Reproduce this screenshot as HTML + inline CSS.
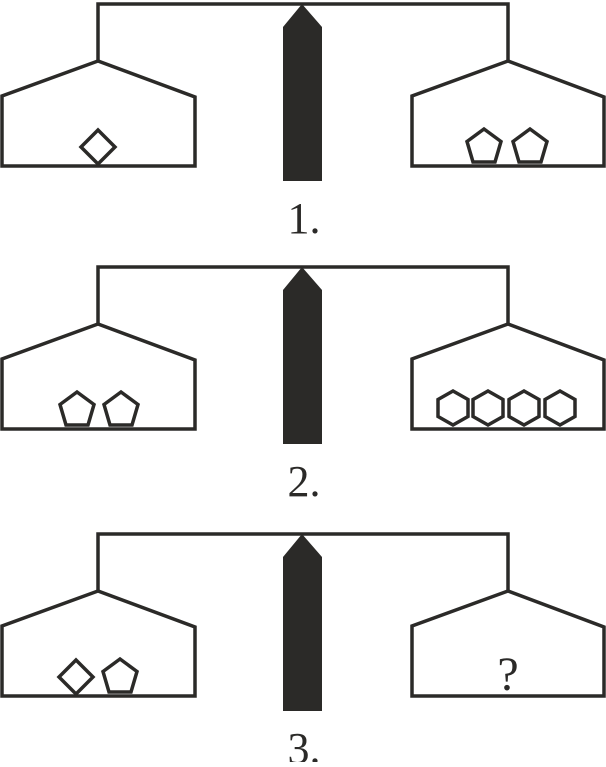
<!DOCTYPE html>
<html><head><style>html,body{margin:0;padding:0;background:#fff;}</style></head>
<body>
<svg width="606" height="762" viewBox="0 0 606 762" xmlns="http://www.w3.org/2000/svg">
<defs>
<g id="scale">
  <polyline points="98,61 98,4 508,4 508,61" fill="none" stroke="#2b2a28" stroke-width="3.5"/>
  <polygon points="98,61 2,96 2,166 195,166 195,97" fill="none" stroke="#2b2a28" stroke-width="3.5"/>
  <polygon points="508,61 412,96 412,166 604,166 604,97" fill="none" stroke="#2b2a28" stroke-width="3.5"/>
  <polygon points="302,4 322,27 322,181 283,181 283,27" fill="#2b2a28"/>
</g>
<polygon id="pent" points="0,-18 17,-5.5 11,15 -11,15 -17,-5.5" fill="none" stroke="#2b2a28" stroke-width="3.5"/>
<polygon id="diam" points="0,-17 17,0 0,17 -17,0" fill="none" stroke="#2b2a28" stroke-width="3.5"/>
<polygon id="hex" points="0,-17 15,-8.5 15,8.5 0,17 -15,8.5 -15,-8.5" fill="none" stroke="#2b2a28" stroke-width="3.5"/>
</defs>
<g font-family="Liberation Serif, serif" font-size="44" fill="#2b2a28" text-anchor="middle">
<use href="#scale"/>
<use href="#diam" x="98" y="147"/>
<use href="#pent" x="484" y="147"/>
<use href="#pent" x="530" y="147"/>
<text x="304" y="233">1.</text>

<g transform="translate(0,263)">
<use href="#scale"/>
<use href="#pent" x="77" y="147"/>
<use href="#pent" x="121" y="147"/>
<use href="#hex" x="453" y="145"/>
<use href="#hex" x="488" y="145"/>
<use href="#hex" x="524" y="145"/>
<use href="#hex" x="560" y="145"/>
<text x="304" y="233">2.</text>
</g>

<g transform="translate(0,530)">
<use href="#scale"/>
<use href="#diam" x="76" y="147"/>
<use href="#pent" x="120" y="147"/>
<text x="508" y="160" style="font-size:48px">?</text>
<text x="304" y="233">3.</text>
</g>
</g>
</svg>
</body></html>
